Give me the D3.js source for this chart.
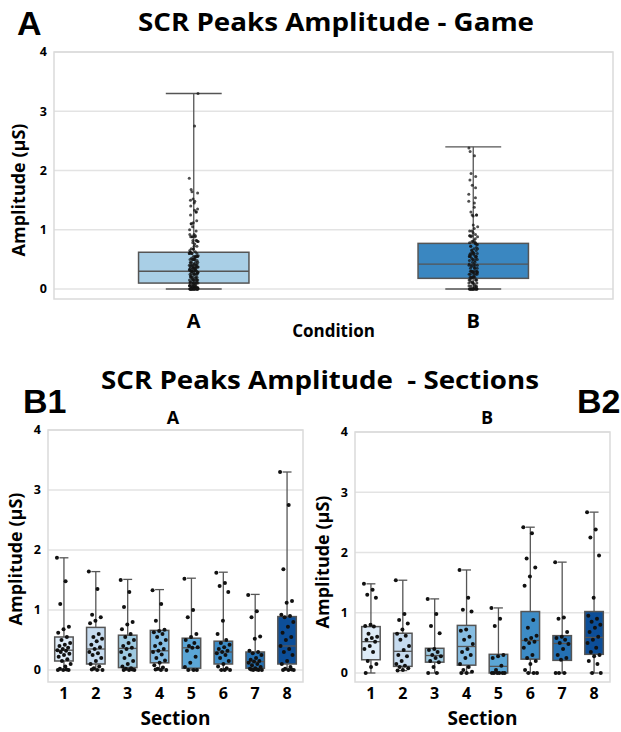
<!DOCTYPE html>
<html>
<head>
<meta charset="utf-8">
<script src="https://cdn.jsdelivr.net/npm/d3@7"></script>
<style>
  body { margin: 0; background: #fff; }
  svg { display: block; }
  text { font-family: "Open Sans", Lato, sans-serif; font-weight: bold; fill: #000; }
</style>
</head>
<body>
<svg id="chart" width="621" height="732"></svg>
<script>
// Values (amplitude, µS)
var conditions = ['A', 'B']
var sections = ['1', '2', '3', '4', '5', '6', '7', '8']
var yTicks = [0, 1, 2, 3, 4]

// game-level box stats: [low, q1, median, q3, high]
var gameStats = [
    [0, 0.10, 0.30, 0.62, 3.30],
    [0, 0.18, 0.42, 0.77, 2.40]
]

// section box stats per condition
var statsA = [
    [0, 0.15, 0.33, 0.55, 1.87],
    [0, 0.10, 0.35, 0.71, 1.64],
    [0, 0.04, 0.36, 0.58, 1.51],
    [0, 0.12, 0.32, 0.66, 1.34],
    [0, 0.03, 0.37, 0.53, 1.53],
    [0, 0.10, 0.30, 0.48, 1.63],
    [0, 0.03, 0.14, 0.30, 1.26],
    [0, 0.10, 0.40, 0.89, 3.30]
]
var statsB = [
    [0, 0.22, 0.52, 0.77, 1.48],
    [0.04, 0.11, 0.36, 0.66, 1.54],
    [0, 0.18, 0.29, 0.41, 1.23],
    [0, 0.13, 0.44, 0.79, 1.71],
    [0, 0.00, 0.11, 0.31, 1.08],
    [0, 0.23, 0.54, 1.02, 2.42],
    [0, 0.21, 0.49, 0.62, 1.84],
    [0, 0.31, 0.59, 1.02, 2.67]
]

// individual peaks per section
var pointsA = [
    [1.87, 1.48, 1.1, 0.72, 0.68, 0.62, 0.55, 0.5, 0.45, 0.42, 0.4, 0.37, 0.35, 0.33, 0.32, 0.3, 0.27, 0.25, 0.22, 0.18, 0.15, 0.1, 0.06, 0.02, 0.0, 0.0, 0.0, 0.01],
    [1.64, 1.35, 0.92, 0.88, 0.82, 0.78, 0.6, 0.55, 0.52, 0.48, 0.42, 0.38, 0.35, 0.3, 0.28, 0.25, 0.2, 0.15, 0.1, 0.06, 0.03, 0.0, 0.0, 0.01],
    [1.5, 1.3, 1.05, 0.8, 0.76, 0.68, 0.6, 0.55, 0.5, 0.45, 0.4, 0.37, 0.35, 0.3, 0.25, 0.2, 0.15, 0.1, 0.06, 0.03, 0.02, 0.0, 0.0, 0.0, 0.01],
    [1.33, 1.1, 0.82, 0.67, 0.65, 0.63, 0.6, 0.55, 0.5, 0.44, 0.4, 0.35, 0.32, 0.3, 0.26, 0.2, 0.16, 0.12, 0.08, 0.04, 0.02, 0.0, 0.0, 0.01],
    [1.52, 1.0, 0.88, 0.6, 0.55, 0.5, 0.45, 0.4, 0.38, 0.37, 0.32, 0.22, 0.12, 0.05, 0.0, 0.0, 0.0],
    [1.62, 1.45, 1.4, 1.3, 0.82, 0.6, 0.5, 0.45, 0.42, 0.38, 0.35, 0.32, 0.3, 0.28, 0.25, 0.2, 0.15, 0.1, 0.06, 0.03, 0.0, 0.0, 0.0],
    [1.25, 0.98, 0.88, 0.56, 0.52, 0.32, 0.3, 0.28, 0.25, 0.2, 0.17, 0.15, 0.14, 0.12, 0.1, 0.08, 0.05, 0.03, 0.02, 0.0, 0.0, 0.0, 0.01, 0.01],
    [3.3, 2.75, 1.68, 1.15, 1.12, 0.92, 0.9, 0.88, 0.8, 0.72, 0.62, 0.55, 0.5, 0.4, 0.35, 0.3, 0.25, 0.15, 0.1, 0.05, 0.02, 0.0, 0.0, 0.0, 0.01]
]
var pointsB = [
    [1.48, 1.38, 1.3, 1.25, 0.8, 0.78, 0.77, 0.65, 0.6, 0.58, 0.55, 0.52, 0.45, 0.4, 0.35, 0.2, 0.15, 0.1, 0.0],
    [1.54, 0.98, 0.88, 0.82, 0.72, 0.65, 0.62, 0.55, 0.45, 0.38, 0.3, 0.28, 0.2, 0.15, 0.12, 0.1, 0.08, 0.05, 0.04],
    [1.23, 0.98, 0.78, 0.66, 0.4, 0.38, 0.35, 0.3, 0.28, 0.25, 0.2, 0.18, 0.1, 0.0, 0.0],
    [1.71, 1.25, 1.05, 1.02, 0.72, 0.7, 0.6, 0.55, 0.48, 0.4, 0.35, 0.3, 0.25, 0.15, 0.1, 0.05, 0.02, 0.0, 0.0],
    [1.08, 0.9, 0.78, 0.3, 0.28, 0.25, 0.12, 0.05, 0.0, 0.0, 0.0, 0.0, 0.0, 0.0],
    [2.42, 2.32, 1.9, 1.75, 1.6, 1.45, 0.88, 0.75, 0.62, 0.58, 0.55, 0.52, 0.5, 0.42, 0.3, 0.25, 0.2, 0.15, 0.05, 0.0, 0.0, 0.0],
    [1.84, 0.92, 0.9, 0.68, 0.6, 0.58, 0.55, 0.5, 0.48, 0.4, 0.3, 0.25, 0.22, 0.0, 0.0, 0.0],
    [2.67, 2.38, 2.25, 1.95, 1.25, 0.95, 0.9, 0.85, 0.8, 0.75, 0.68, 0.6, 0.55, 0.5, 0.42, 0.35, 0.3, 0.28, 0.2, 0.15, 0.0, 0.0]
]

var gameColors = ['#a9cfe6', '#3a87c1']
var sectionColors = ['#deebf7', '#c6dbef', '#9ecae1', '#86bde2', '#5ba6d6', '#3d8cc6', '#2470b2', '#0c4e98']

var svg = d3.select('#chart')

// spread dots sideways without randomness
var jitter = function (i, w) {
    return (((i * 0.6180339) % 1) - 0.5) * 2 * w
}

// Draws one box plot panel
var drawPanel = function (opt) {
    var g = svg.append('g')
    var x = d3.scalePoint().domain(opt.cats).range([opt.left, opt.right]).padding(0.5)
    var y = d3.scaleLinear().domain([0, 4]).range([opt.y0, opt.y4])
    var bottom = opt.bottom

    // frame + grid
    g.selectAll('.grid')
        .data(yTicks)
        .enter().append('line')
        .attr('x1', opt.left).attr('x2', opt.right)
        .attr('y1', function(d) { return y(d) }).attr('y2', function(d) { return y(d) })
        .attr('stroke', '#e3e3e3').attr('stroke-width', 1.5)
    g.append('rect')
        .attr('x', opt.left).attr('y', y(4))
        .attr('width', opt.right - opt.left).attr('height', bottom - y(4))
        .attr('fill', 'none').attr('stroke', '#dadada').attr('stroke-width', 1.5)

    // y tick labels
    g.selectAll('.ytick')
        .data(yTicks)
        .enter().append('text')
        .attr('x', opt.left - 7).attr('y', function(d) { return y(d) })
        .attr('dy', '0.35em').attr('text-anchor', 'end')
        .style('font-size', '12.5px')
        .text(function(d) { return d })

    var step = x.step()
    var bw = step * opt.boxFrac
    var cw = step * opt.capFrac

    var boxes = g.selectAll('.box')
        .data(opt.stats)
        .enter().append('g')
        .attr('transform', function(d, i) { return 'translate(' + x(opt.cats[i]) + ',0)' })

    boxes.append('line')
        .attr('y1', function(d) { return y(d[0]) }).attr('y2', function(d) { return y(d[4]) })
        .attr('stroke', '#555').attr('stroke-width', 1.3)
    boxes.append('rect')
        .attr('x', -bw / 2).attr('width', bw)
        .attr('y', function(d) { return y(d[3]) })
        .attr('height', function(d) { return Math.max(1, y(d[1]) - y(d[3])) })
        .attr('fill', function(d, i) { return opt.colors[i] })
        .attr('stroke', '#555').attr('stroke-width', 1.5)
    boxes.append('line')
        .attr('x1', -bw / 2).attr('x2', bw / 2)
        .attr('y1', function(d) { return y(d[2]) }).attr('y2', function(d) { return y(d[2]) })
        .attr('stroke', '#555').attr('stroke-width', 1.3)
    boxes.selectAll('.cap')
        .data(function(d) { return [d[0], d[4]] })
        .enter().append('line')
        .attr('x1', -cw / 2).attr('x2', cw / 2)
        .attr('y1', function(d) { return y(d) }).attr('y2', function(d) { return y(d) })
        .attr('stroke', '#555').attr('stroke-width', 1.3)

    // dots
    boxes.selectAll('.dot')
        .data(function(d, i) { return opt.points[i] })
        .enter().append('circle')
        .attr('cx', function(d, j) { return jitter(j, opt.jitter) })
        .attr('cy', function(d) { return y(d) })
        .attr('r', opt.r)
        .attr('fill', opt.dotColor)

    // x tick labels
    g.selectAll('.xtick')
        .data(opt.cats)
        .enter().append('text')
        .attr('x', function(d) { return x(d) }).attr('y', opt.xLabelY)
        .attr('text-anchor', 'middle')
        .style('font-size', opt.xLabelSize)
        .text(function(d) { return d })

    // axis titles
    g.append('text')
        .attr('x', (opt.left + opt.right) / 2).attr('y', opt.xTitleY)
        .attr('text-anchor', 'middle')
        .style('font-size', opt.xTitleSize)
        .text(opt.xTitle)
    g.append('text')
        .attr('transform', 'translate(' + opt.yTitleX + ',' + opt.yTitleY + ') rotate(-90)')
        .attr('text-anchor', 'middle')
        .style('font-size', '18px')
        .text('Amplitude (µS)')
}

// top panel: whole game, dots pooled over sections
var gamePoints = [pointsA, pointsB].map(function(p, i) {
    return d3.merge(p).filter(function(v) { return v <= gameStats[i][4] })
})

drawPanel({
    cats: conditions, stats: gameStats, points: gamePoints, colors: gameColors,
    left: 54, right: 613, y0: 289, y4: 52, bottom: 299,
    boxFrac: 0.395, capFrac: 0.2, jitter: 4.5, r: 1.5, dotColor: 'rgba(20,20,20,0.75)',
    xLabelY: 328, xLabelSize: '20px', xTitle: 'Condition', xTitleY: 337, xTitleSize: '17px',
    yTitleX: 25, yTitleY: 190
})

drawPanel({
    cats: sections, stats: statsA, points: pointsA, colors: sectionColors,
    left: 48, right: 303, y0: 670, y4: 430, bottom: 682,
    boxFrac: 0.58, capFrac: 0.28, jitter: 7, r: 2, dotColor: '#111',
    xLabelY: 699, xLabelSize: '16px', xTitle: 'Section', xTitleY: 725, xTitleSize: '19px',
    yTitleX: 22, yTitleY: 559
})

drawPanel({
    cats: sections, stats: statsB, points: pointsB, colors: sectionColors,
    left: 355, right: 610, y0: 673, y4: 432, bottom: 682,
    boxFrac: 0.58, capFrac: 0.28, jitter: 7, r: 2, dotColor: '#111',
    xLabelY: 699, xLabelSize: '16px', xTitle: 'Section', xTitleY: 725, xTitleSize: '19px',
    yTitleX: 329, yTitleY: 562
})

// titles and panel letters
svg.append('text').attr('x', 336).attr('y', 31).attr('text-anchor', 'middle')
    .attr('textLength', 396).attr('lengthAdjust', 'spacingAndGlyphs')
    .style('font-size', '25px').text('SCR Peaks Amplitude - Game')
svg.append('text').attr('x', 320).attr('y', 389).attr('text-anchor', 'middle')
    .attr('textLength', 438).attr('lengthAdjust', 'spacingAndGlyphs')
    .style('font-size', '25px').style('white-space', 'pre').text('SCR Peaks Amplitude  - Sections')
svg.append('text').attr('x', 173).attr('y', 424).attr('text-anchor', 'middle')
    .style('font-size', '18px').text('A')
svg.append('text').attr('x', 487).attr('y', 424).attr('text-anchor', 'middle')
    .style('font-size', '18px').text('B')

var letters = [['A', 17, 35], ['B1', 23, 413], ['B2', 577, 413]]
svg.selectAll('.letter')
    .data(letters)
    .enter().append('text')
    .attr('x', function(d) { return d[1] }).attr('y', function(d) { return d[2] })
    .style('font-family', '"Liberation Sans", Arial, sans-serif')
    .style('font-size', '34px')
    .text(function(d) { return d[0] })
</script>
</body>
</html>
